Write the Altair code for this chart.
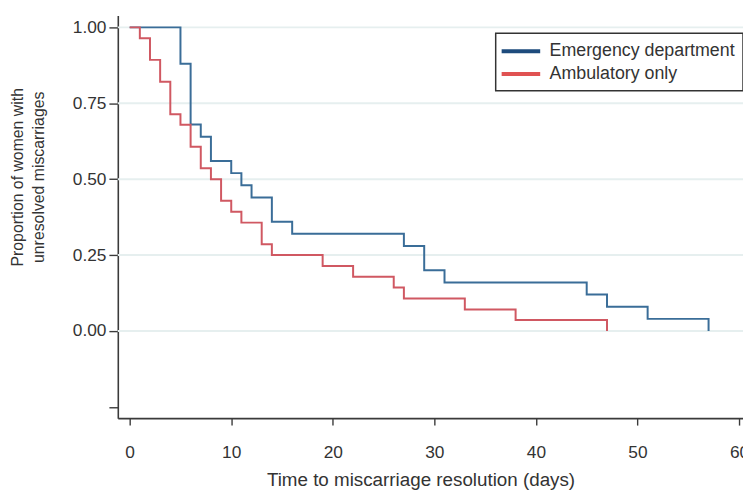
import altair as alt
import pandas as pd

groups = ["Emergency department", "Ambulatory only"]

ed_days = [0, 5, 6, 7, 8, 10, 11, 12, 14, 16, 27, 29, 31, 45, 47, 51, 57]
ed_surv = [1.00, 0.88, 0.68, 0.64, 0.56, 0.52, 0.48, 0.44, 0.36, 0.32, 0.28, 0.20, 0.16, 0.12, 0.08, 0.04, 0.00]

amb_days = [0, 1, 2, 3, 4, 5, 6, 7, 8, 9, 10, 11, 13, 14, 19, 22, 26, 27, 33, 38, 47]
amb_surv = [1.000, 0.964, 0.893, 0.821, 0.714, 0.679, 0.607, 0.536, 0.500, 0.429, 0.393, 0.357,
            0.286, 0.250, 0.214, 0.179, 0.143, 0.107, 0.071, 0.036, 0.000]

y_ticks = [-0.25, 0.0, 0.25, 0.5, 0.75, 1.0]
grid_vals = [0.0, 0.25, 0.5, 0.75, 1.0]
x_ticks = [0, 10, 20, 30, 40, 50, 60]

line_colors = ["#3a6d98", "#d05862"]
legend_colors = ["#1d4b7c", "#e05252"]

ed_df = pd.DataFrame({"day": ed_days, "surv": ed_surv, "group": groups[0]})
amb_df = pd.DataFrame({"day": amb_days, "surv": amb_surv, "group": groups[1]})
all_df = pd.concat([ed_df, amb_df], ignore_index=True)
grid_df = pd.DataFrame({"g": grid_vals})

FONT = "Liberation Sans"
TXT = "#333333"

xscale = alt.Scale(domain=[-1.169, 60.39], nice=False, zero=False)
yscale = alt.Scale(domain=[-0.287, 1.039], nice=False, zero=False)

x_axis = alt.Axis(
    values=x_ticks, grid=False, tickSize=7, labelPadding=28, labelBaseline="middle",
    labelFontSize=17.5, labelFont=FONT, labelColor=TXT, labelFlush=False,
    title="Time to miscarriage resolution (days)", titleFontSize=19, titleFont=FONT,
    titleFontWeight="normal", titleColor=TXT, titleX=306, titleY=62, titleBaseline="middle",
    domainColor="#3a3a3a", domainWidth=1.6, tickColor="#3a3a3a", tickWidth=1.4,
)
y_axis = alt.Axis(
    values=y_ticks, grid=False, tickSize=9, labelPadding=3,
    labelExpr="datum.value < 0 ? '' : format(datum.value, '.2f')",
    labelFontSize=17.5, labelFont=FONT, labelColor=TXT,
    title=["Proportion of women with", "unresolved miscarriages"], titleFontSize=16, titleFont=FONT,
    titleFontWeight="normal", titleColor=TXT, titleX=-109, titleY=163, titleBaseline="top",
    titleLineHeight=21, titleAlign="center",
    domainColor="#3a3a3a", domainWidth=1.6, tickColor="#3a3a3a", tickWidth=1.4,
)

grid = alt.Chart(grid_df).mark_rule(color="#e6efef", strokeWidth=2).encode(
    y=alt.Y("g:Q", scale=yscale, axis=y_axis)
)

legend_layer = alt.Chart(all_df).mark_line(opacity=0).encode(
    x=alt.X("day:Q", scale=xscale, axis=x_axis),
    y=alt.Y("surv:Q", scale=yscale),
    color=alt.Color(
        "group:N",
        scale=alt.Scale(domain=groups, range=legend_colors),
        legend=alt.Legend(
            title=None, orient="none", legendX=382, legendY=18,
            symbolType="M-2.5,0H2.5", symbolSize=243, symbolStrokeWidth=4, symbolOpacity=1,
            symbolOffset=7.5,
            labelFontSize=18, labelFont=FONT, labelColor=TXT, labelOffset=19, labelLimit=400,
            padding=8, rowPadding=4, fillColor="white", strokeColor="#333333",
        ),
    ),
)

ed_line = alt.Chart(ed_df).mark_line(interpolate="step-after", strokeWidth=2, color=line_colors[0]).encode(
    x=alt.X("day:Q", scale=xscale), y=alt.Y("surv:Q", scale=yscale)
)
amb_line = alt.Chart(amb_df).mark_line(interpolate="step-after", strokeWidth=2, color=line_colors[1]).encode(
    x=alt.X("day:Q", scale=xscale), y=alt.Y("surv:Q", scale=yscale)
)

chart = alt.layer(grid, legend_layer, ed_line, amb_line).properties(
    width=632, height=407,
    autosize=alt.AutoSizeParams(type="none"),
    padding={"left": 111, "top": 5, "right": 0, "bottom": 70},
).configure_view(stroke=None).configure_legend(strokeWidth=1.5)

chart.save("out.html", embed_options={"renderer": "svg", "actions": False})
